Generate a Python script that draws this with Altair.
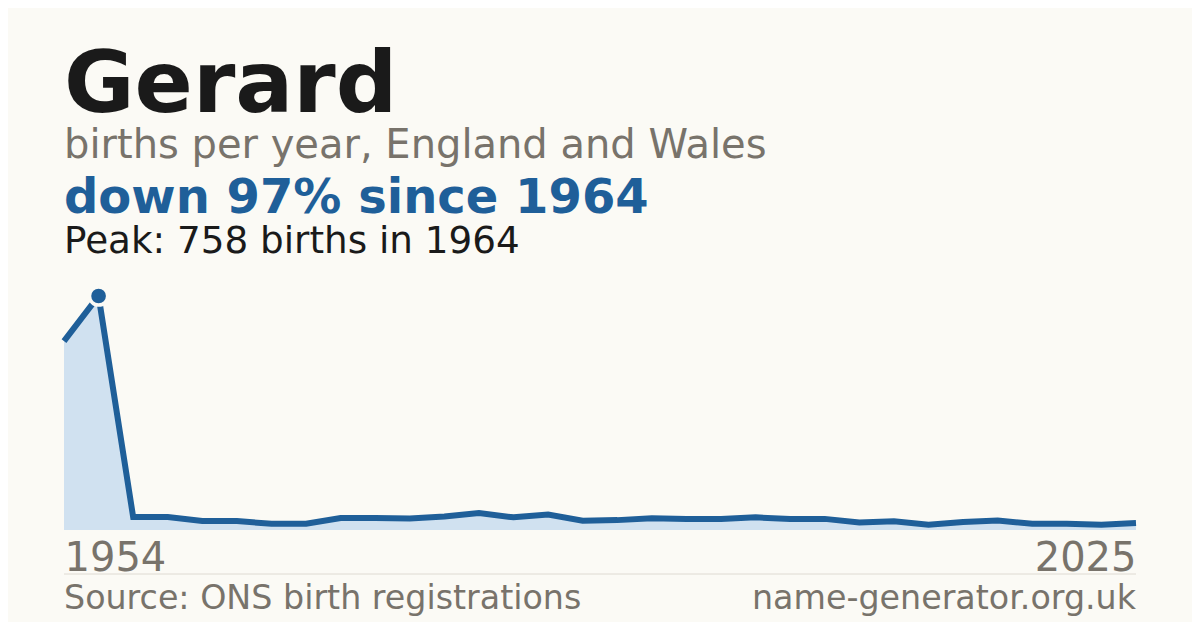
import altair as alt
import pandas as pd

years = [1954, 1964] + list(range(1996, 2026))
births = [612, 758, 42, 42, 29, 29, 20, 20, 39, 39, 37, 44, 55, 41, 50, 30,
          32, 38, 36, 36, 41, 36, 36, 24, 28, 17, 26, 31, 20, 20, 17, 23]

title_text = "Gerard"
subtitle_text = "births per year, England and Wales"
change_text = "down 97% since 1964"
peak_text = "Peak: 758 births in 1964"
source_text = "Source: ONS birth registrations"
site_text = "name-generator.org.uk"

BG = "#fbfaf5"
BLUE = "#1f5f99"
FILL = "#d0e1f0"
GRAY = "#78736b"
DARK = "#1a1a1a"
FONT = "DejaVu Sans"

W, H = 1072, 234
n = len(years)
df = pd.DataFrame({"i": list(range(n)), "year": years, "births": births})
peak_idx = births.index(max(births))
first_year, last_year = years[0], years[-1]

x_enc = alt.X(
    "i:Q",
    scale=alt.Scale(domain=[0, n - 1], nice=False, zero=False),
    axis=alt.Axis(
        values=[0, n - 1],
        labelExpr=f"datum.value == 0 ? '{first_year}' : '{last_year}'",
        labelFlush=True,
        labelFontSize=40,
        labelColor=GRAY,
        labelFont=FONT,
        labelBaseline="alphabetic",
        labelPadding=40,
        ticks=False,
        tickSize=0,
        domain=False,
        grid=False,
        title=None,
    ),
)
y_enc = alt.Y("births:Q", scale=alt.Scale(domain=[0, max(births)], nice=False), axis=None)

base = alt.Chart(df)
area = base.mark_area(color=FILL, opacity=1).encode(x=x_enc, y=y_enc)
line = base.mark_line(color=BLUE, strokeWidth=6).encode(x="i:Q", y="births:Q")
dot = base.transform_filter(alt.datum.i == peak_idx).mark_circle(
    size=330, color=BLUE, opacity=1, stroke=BG, strokeWidth=3.5
).encode(x="i:Q", y="births:Q")


def label(txt, y, size, color, weight="normal", x=0, align="left"):
    return alt.Chart(pd.DataFrame({"t": [txt]})).mark_text(
        align=align, baseline="alphabetic", fontSize=size, font=FONT,
        fontWeight=weight, color=color,
    ).encode(x=alt.value(x), y=alt.value(y), text="t:N")


texts = [
    label(title_text, -184, 86, DARK, "bold"),
    label(subtitle_text, -138, 40, GRAY),
    label(change_text, -83, 48, BLUE, "bold"),
    label(peak_text, -43, 37.3, DARK),
    label(source_text, 313, 33.3, GRAY),
    label(site_text, 313, 33.3, GRAY, x=W, align="right"),
]

rule = alt.Chart(pd.DataFrame({"a": [0]})).mark_rule(color="#dedad2", strokeWidth=1).encode(
    x=alt.value(0), x2=alt.value(W), y=alt.value(H + 44)
)

chart = alt.layer(area, line, dot, rule, *texts).properties(
    width=W, height=H,
    padding={"left": 56, "top": 288, "right": 56, "bottom": 92},
    autosize=alt.AutoSizeParams(type="none"),
    background=BG,
).configure_view(strokeWidth=0)

chart.save("out.html", embed_options={"renderer": "svg", "actions": False})
